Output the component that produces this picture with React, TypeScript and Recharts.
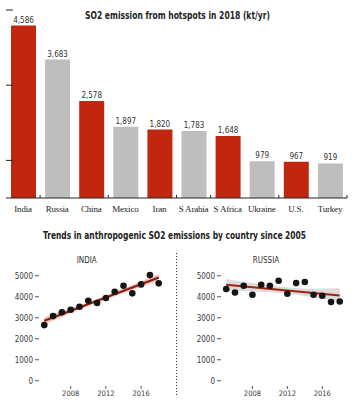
import React from "react";
import {
  BarChart,
  Bar,
  XAxis,
  YAxis,
  Cell,
  LabelList,
  ComposedChart,
  Scatter,
  Line,
  Area,
} from "recharts";

// ---------- Bar chart data ----------
const countries = ["India", "Russia", "China", "Mexico", "Iran", "S Arabia", "S Africa", "Ukraine", "U.S.", "Turkey"];
const emissions2018 = [4586, 3683, 2578, 1897, 1820, 1783, 1648, 979, 967, 919];
const highlighted = ["India", "China", "Iran", "S Africa", "U.S."];
const tickAfter = ["India", "China", "Iran", "S Arabia", "Ukraine", "Turkey"];
const barYTicks = [1000, 3000, 5000];

// ---------- Trend panels data ----------
const years = [2005, 2006, 2007, 2008, 2009, 2010, 2011, 2012, 2013, 2014, 2015, 2016, 2017, 2018];
const indiaValues = [2650, 3080, 3257, 3381, 3524, 3810, 3700, 3938, 4238, 4524, 4162, 4590, 5033, 4638];
const russiaValues = [4367, 4205, 4524, 4095, 4571, 4524, 4762, 4143, 4650, 4700, 4095, 4048, 3748, 3776];

const trendYears = [2005, 2018];
const indiaTrend = [2860, 4920];
const russiaTrend = [4570, 4060];

const bandYears = [2005, 2008, 2011.5, 2015, 2018];
const indiaBandLow = [2690, 3215, 3800, 4325, 4750];
const indiaBandHigh = [3030, 3455, 3980, 4565, 5090];
const russiaBandLow = [4290, 4252, 4165, 3978, 3740];
const russiaBandHigh = [4850, 4652, 4465, 4378, 4400];

const panelYTicks = [0, 1000, 2000, 3000, 4000, 5000];
const panelXTicks = [2008, 2012, 2016];

const barData = countries.map((c, i) => ({ country: c, value: emissions2018[i] }));
const RED = "#C1260E";
const GRAY = "#BEBEBE";
const COND = "'DejaVu Sans Condensed', 'DejaVu Sans', sans-serif";

const CountryTick = (props: any) => {
  const { x, y, payload } = props;
  const half = payload && typeof payload.offset === "number" && payload.offset > 0 ? payload.offset : 17;
  const axisY = y - 8;
  return (
    <g>
      <text
        x={x}
        y={y}
        dy="0.71em"
        textAnchor="middle"
        fontFamily="'Liberation Serif', serif"
        fontSize={9}
        letterSpacing={-0.2}
        fill="#1a1a1a"
      >
        {payload.value}
      </text>
      {tickAfter.includes(payload.value) && (
        <line x1={x + half} x2={x + half} y1={axisY} y2={axisY - 3} stroke="#222" strokeWidth={1} />
      )}
    </g>
  );
};

const EmptyTick = () => <g />;

const Dot = (props: any) => {
  const { cx, cy } = props;
  if (cx == null || cy == null) return null;
  return <circle cx={cx} cy={cy} r={3.3} fill="#151515" />;
};

type PanelProps = {
  values: number[];
  trend: number[];
  bandLow: number[];
  bandHigh: number[];
  lineColor: string;
  bandColor: string;
  left: number;
  width: number;
  yAxisWidth: number;
  rightMargin: number;
};

const TrendPanel = (p: PanelProps) => {
  const points = years.map((y, i) => ({ year: y, value: p.values[i] }));
  const trendData = trendYears.map((y, i) => ({ year: y, trend: p.trend[i] }));
  const bandData = bandYears.map((y, i) => ({ year: y, range: [p.bandLow[i], p.bandHigh[i]] }));
  return (
    <div style={{ position: "absolute", left: p.left, top: 250 }}>
      <ComposedChart
        width={p.width}
        height={161}
        margin={{ top: 18, right: p.rightMargin, left: 0, bottom: 0 }}
      >
        <XAxis
          type="number"
          dataKey="year"
          domain={[2004.4, 2018.6]}
          ticks={panelXTicks}
          allowDataOverflow
          height={25}
          axisLine={false}
          tickSize={3}
          tickMargin={2}
          tickLine={{ stroke: "#555" }}
          tick={{ fontSize: 7.5, fill: "#3a3a3a", fontFamily: COND }}
        />
        <YAxis
          type="number"
          dataKey="value"
          domain={[-250, 5370]}
          ticks={panelYTicks}
          allowDataOverflow
          width={p.yAxisWidth}
          axisLine={false}
          tickSize={4}
          tickMargin={2}
          tickLine={{ stroke: "#555" }}
          tick={{ fontSize: 8, fill: "#3a3a3a", fontFamily: COND }}
        />
        <Area
          data={bandData}
          dataKey="range"
          type="monotone"
          stroke="none"
          fill={p.bandColor}
          fillOpacity={1}
          isAnimationActive={false}
        />
        <Line
          data={trendData}
          dataKey="trend"
          type="linear"
          stroke={p.lineColor}
          strokeWidth={2}
          dot={false}
          isAnimationActive={false}
        />
        <Scatter data={points} dataKey="value" shape={<Dot />} isAnimationActive={false} />
      </ComposedChart>
    </div>
  );
};

export default function App() {
  return (
    <div
      style={{
        position: "absolute",
        left: 0,
        top: 0,
        width: 362,
        height: 411,
        background: "#fff",
        overflow: "hidden",
      }}
    >
      <div style={{ position: "absolute", left: 0, top: 0 }}>
        <BarChart
          width={362}
          height={222}
          data={barData}
          margin={{ top: 10, right: 15, left: 6, bottom: 0 }}
          barSize={25}
        >
          <XAxis
            dataKey="country"
            height={24}
            interval={0}
            tickLine={false}
            tickSize={6}
            tickMargin={2}
            axisLine={{ stroke: "#222" }}
            tick={<CountryTick />}
          />
          <YAxis
            width={1}
            mirror
            domain={[0, 5000]}
            ticks={barYTicks}
            tick={<EmptyTick />}
            axisLine={false}
            tickSize={7}
            tickLine={{ stroke: "#222" }}
          />
          <Bar dataKey="value" isAnimationActive={false}>
            {barData.map((d) => (
              <Cell key={d.country} fill={highlighted.includes(d.country) ? RED : GRAY} />
            ))}
            <LabelList
              dataKey="value"
              position="top"
              offset={3}
              formatter={(v: any) => Number(v).toLocaleString("en-US")}
              style={{ fontSize: 8, fill: "#333", fontFamily: COND }}
            />
          </Bar>
        </BarChart>
      </div>

      <TrendPanel
        values={indiaValues}
        trend={indiaTrend}
        bandLow={indiaBandLow}
        bandHigh={indiaBandHigh}
        lineColor="#8E1B10"
        bandColor="#F3C4BC"
        left={0}
        width={176}
        yAxisWidth={39}
        rightMargin={12}
      />
      <TrendPanel
        values={russiaValues}
        trend={russiaTrend}
        bandLow={russiaBandLow}
        bandHigh={russiaBandHigh}
        lineColor="#A3200F"
        bandColor="#DCDCDC"
        left={181}
        width={180}
        yAxisWidth={40}
        rightMargin={16}
      />

      <svg
        width={362}
        height={411}
        style={{ position: "absolute", left: 0, top: 0, pointerEvents: "none" }}
      >
        <text
          x={85}
          y={18.5}
          textLength={185}
          lengthAdjust="spacingAndGlyphs"
          fontFamily={COND}
          fontWeight={600}
          fontSize={10}
          fill="#222"
        >
          SO2 emission from hotspots in 2018 (kt/yr)
        </text>
        <text
          x={43}
          y={238.5}
          textLength={263}
          lengthAdjust="spacingAndGlyphs"
          fontFamily={COND}
          fontWeight={600}
          fontSize={10}
          fill="#222"
        >
          Trends in anthropogenic SO2 emissions by country since 2005
        </text>
        <text x={86.7} y={263.3} textAnchor="middle" fontFamily={COND} fontSize={8} fill="#333">
          INDIA
        </text>
        <text x={266} y={263.3} textAnchor="middle" fontFamily={COND} fontSize={8} fill="#333">
          RUSSIA
        </text>
        <line x1={176.5} x2={176.5} y1={253} y2={397} stroke="#333" strokeWidth={1} strokeDasharray="1 2" />
      </svg>
    </div>
  );
}
